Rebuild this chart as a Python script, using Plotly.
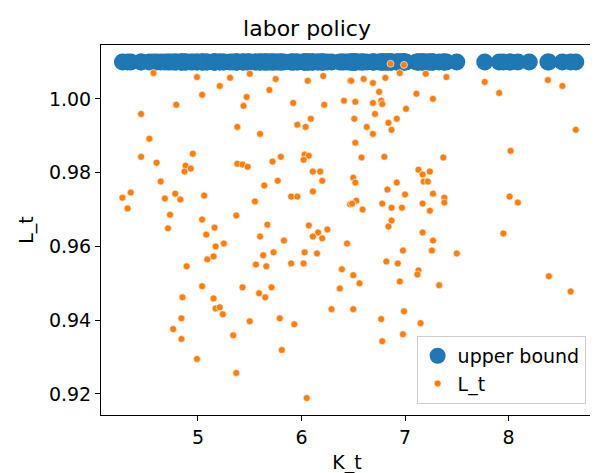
import plotly.graph_objects as go

K_t = [4.57,4.99,5.21,5.31,5.50,5.75,6.06,6.21,6.47,5.04,5.47,5.69,4.79,5.44,5.92,6.22,6.41,4.45,5.38,5.96,
       6.04,6.09,5.60,4.53,4.45,4.60,4.95,4.88,4.93,4.87,5.38,5.43,5.48,5.72,5.80,6.03,6.07,6.02,6.11,6.18,
       6.20,4.64,4.35,4.27,4.32,4.78,4.68,4.83,5.06,5.64,5.77,5.90,5.96,6.11,5.55,6.47,4.73,5.37,5.04,5.16,
       5.67,4.71,6.07,6.25,6.16,5.08,5.17,5.25,5.60,5.83,6.11,6.20,6.44,4.89,5.09,5.15,5.63,5.73,5.56,5.66,
       5.90,6.02,6.03,6.15,6.39,5.04,5.43,5.71,5.59,5.65,4.85,5.15,5.17,5.21,5.24,6.37,6.29,4.84,4.76,4.84,
       5.50,5.79,5.93,5.34,4.99,5.81,5.37,6.05,6.86,6.99,6.95,7.20,7.40,6.48,6.60,6.69,6.81,7.77,8.38,8.52,
       7.91,6.75,7.11,7.27,6.52,6.69,6.77,6.78,7.01,6.71,6.51,6.92,6.84,6.63,6.87,6.69,8.65,6.52,8.02,6.58,
       6.80,7.37,7.13,7.17,7.24,6.50,6.52,6.92,7.18,7.22,6.83,7.00,7.27,7.38,7.38,8.01,8.09,6.53,6.49,6.78,
       6.87,6.97,7.17,7.24,6.59,6.87,6.84,7.17,7.95,7.27,6.98,7.26,7.50,6.82,6.93,6.50,6.56,6.95,7.13,7.12,
       7.33,8.39,8.60,6.50,6.77,6.99,7.15,6.98,6.78,8.20]
L_t = [1.0070,1.0059,1.0035,1.0057,1.0068,1.0054,1.0049,1.0062,1.0049,1.0011,1.0005,1.0024,0.9984,0.9981,0.9989,0.9984,0.9995,0.9959,0.9924,0.9930,
       0.9924,0.9946,0.9905,0.9892,0.9843,0.9827,0.9851,0.9819,0.9811,0.9803,0.9824,0.9822,0.9816,0.9830,0.9843,0.9849,0.9846,0.9835,0.9803,0.9803,
       0.9778,0.9776,0.9746,0.9732,0.9703,0.9743,0.9730,0.9727,0.9738,0.9765,0.9778,0.9735,0.9735,0.9749,0.9722,0.9714,0.9686,0.9684,0.9673,0.9651,
       0.9659,0.9649,0.9657,0.9646,0.9638,0.9632,0.9600,0.9608,0.9627,0.9616,0.9627,0.9622,0.9608,0.9546,0.9565,0.9573,0.9576,0.9584,0.9551,0.9546,
       0.9554,0.9554,0.9584,0.9581,0.9538,0.9492,0.9489,0.9489,0.9473,0.9462,0.9462,0.9459,0.9432,0.9435,0.9416,0.9486,0.9430,0.9405,0.9376,0.9349,
       0.9397,0.9405,0.9389,0.9359,0.9295,0.9319,0.9257,0.9189,1.0095,1.0092,1.0070,1.0068,1.0059,1.0049,1.0054,1.0043,1.0057,1.0046,1.0051,1.0035,
       1.0016,1.0019,1.0014,1.0000,0.9992,0.9989,0.9995,0.9986,0.9973,0.9959,0.9946,0.9946,0.9935,0.9924,0.9916,0.9905,0.9916,0.9881,0.9859,0.9841,
       0.9843,0.9841,0.9808,0.9795,0.9803,0.9786,0.9773,0.9773,0.9776,0.9776,0.9754,0.9741,0.9743,0.9732,0.9719,0.9735,0.9719,0.9724,0.9716,0.9716,
       0.9705,0.9705,0.9716,0.9697,0.9700,0.9670,0.9654,0.9638,0.9635,0.9616,0.9589,0.9589,0.9581,0.9559,0.9554,0.9522,0.9500,0.9505,0.9535,0.9524,
       0.9495,0.9519,0.9478,0.9430,0.9403,0.9424,0.9392,0.9362,0.9343,0.9289]
upper_bound_value = 1.01
upper = [upper_bound_value] * len(K_t)

fig = go.Figure()
fig.add_trace(go.Scatter(x=K_t, y=upper, mode="markers", name="upper bound",
                         marker=dict(color="#1f77b4", size=17, line=dict(width=0))))
fig.add_trace(go.Scatter(x=K_t, y=L_t, mode="markers", name="L_t",
                         marker=dict(color="#ff7f0e", size=7, line=dict(width=0.6, color="white"))))

axis_common = dict(showgrid=False, zeroline=False, showline=True, linecolor="black", linewidth=1,
                   mirror=True, ticks="outside", ticklen=5, tickcolor="black", automargin=False,
                   tickfont=dict(size=19, color="black"))
fig.update_layout(
    width=598, height=473,
    margin=dict(l=93, r=13, t=37, b=66),
    paper_bgcolor="white", plot_bgcolor="white",
    font=dict(family="DejaVu Sans", color="black"),
    title=dict(text="labor policy", x=0.5, xanchor="center", y=0.957, yanchor="middle",
               font=dict(size=22)),
    xaxis=dict(range=[4.063, 8.816], tickvals=[5, 6, 7, 8],
               title=dict(text="K_t", font=dict(size=19), standoff=8), **axis_common),
    yaxis=dict(range=[0.9143, 1.0146], tickvals=[0.92, 0.94, 0.96, 0.98, 1.00], tickformat=".2f",
               title=dict(text="L_t", font=dict(size=19), standoff=10), **axis_common),
    legend=dict(x=0.985, y=0.03, xanchor="right", yanchor="bottom", bgcolor="rgba(255,255,255,0.8)",
                bordercolor="#cccccc", borderwidth=1, font=dict(size=19)),
    showlegend=True,
)
fig.write_html("out.html")
